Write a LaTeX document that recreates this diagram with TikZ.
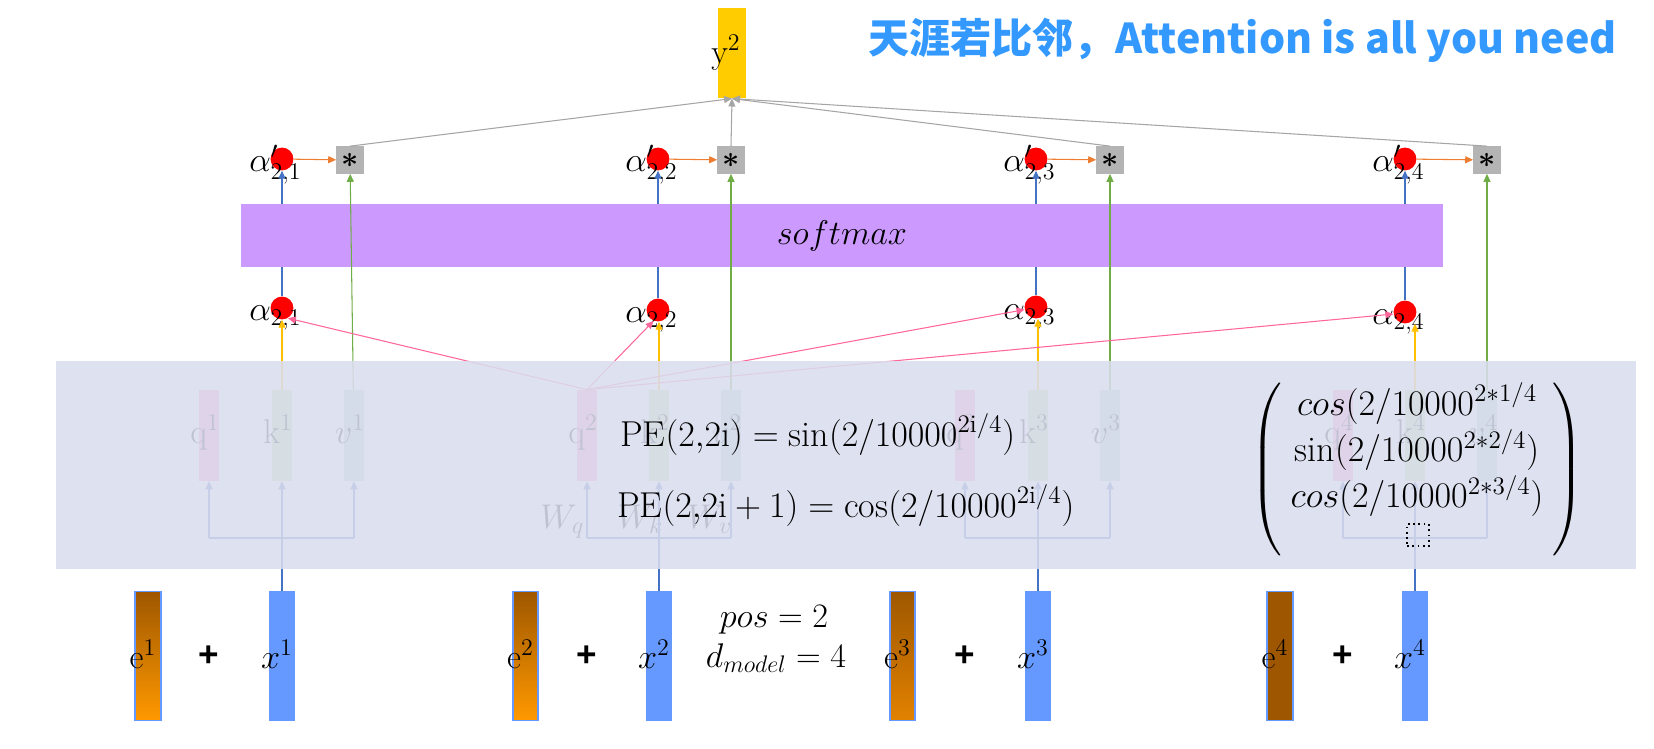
\RequirePackage{fix-cm}
\documentclass[tikz,border=0pt]{standalone}
\usepackage{fontspec}
\usepackage{amsmath, amssymb}
\usepackage{tikz}
\usetikzlibrary{positioning,arrows.meta,calc}
\newfontfamily\cjkfont{Noto Sans CJK SC}
\newfontfamily\plusfont{Liberation Sans}

\definecolor{arrblue}{RGB}{68,114,196}
\definecolor{arrorange}{RGB}{237,125,49}
\definecolor{arrgreen}{RGB}{112,173,71}
\definecolor{arryellow}{RGB}{255,192,0}
\definecolor{arrpink}{RGB}{255,102,153}
\definecolor{arrgray}{RGB}{165,165,165}
\definecolor{mulgray}{RGB}{180,180,180}
\definecolor{smpurple}{RGB}{204,153,255}
\definecolor{pebox}{RGB}{218,221,238}
\definecolor{xblue}{RGB}{102,153,255}
\definecolor{ybar}{RGB}{255,204,0}
\definecolor{ebrown}{RGB}{158,87,0}
\definecolor{eorange}{RGB}{255,153,0}
\definecolor{emid}{RGB}{226,130,0}
\definecolor{titleblue}{RGB}{51,153,255}
\definecolor{qpink}{RGB}{255,140,200}
\definecolor{kgreen}{RGB}{190,230,150}
\definecolor{vteal}{RGB}{170,215,200}

\begin{document}
\begin{tikzpicture}[
  x=0.02cm, y=-0.02cm,
  font=\fontsize{19.5}{23}\selectfont, >={Triangle[length=4.5pt, width=4pt]},
  dot/.style={circle, fill=red, minimum size=13pt, inner sep=0pt},
  mul/.style={fill=mulgray, minimum width=15.4pt, minimum height=15.4pt, inner sep=0pt, font=\fontsize{17}{19}\selectfont\boldmath},
  col/.style={minimum width=11.4pt, minimum height=51.8pt, inner sep=0pt},
  vecbar/.style={minimum width=14.6pt, minimum height=73.5pt, inner sep=0pt},
  lbl/.style={anchor=base west, inner sep=0pt},
  pefont/.style={font=\fontsize{20.5}{24}\selectfont},
  arr/.style={->, line width=0.6pt},
]
\useasboundingbox (0,0) rectangle (1654,748);

\node[fill=ybar, minimum width=16.2pt, minimum height=51.5pt, inner sep=0pt] (y2) at (732,53) {};
\node[lbl] (y2lbl) at (711,63) {$\mathrm{y}^2$};
\node[lbl, text=titleblue, font=\fontsize{23.4}{27}\selectfont\cjkfont\bfseries] (title) at (868,53)
  {天涯若比邻，Attention is all you need};

\foreach \i/\c/\ay/\q/\k/\v/\s/\e/\eb in {
    1/282/308/209/282/354/350/148/eorange,
    2/658/310/587/659/731/731/525.5/eorange,
    3/1036/307/965/1038/1110/1110/902.5/emid,
    4/1405/312/1343/1415/1487/1487/1280/ebrown}{
  \node[dot] (a\i) at (\c,\ay) {};
  \node[dot] (b\i) at (\c,159) {};
  \node[lbl] (la\i) at ($(a\i)+(-33,12)$) {$\alpha_{2{,}\i}$};
  \node[lbl] (lb\i) at ($(b\i)+(-33,12)$) {$\alpha'_{2{,}\i}$};
  \node[mul] (s\i) at (\s,160) {$\ast$};
  \draw[arr, arrblue] (a\i) -- (b\i);

  \node[col, fill=qpink] (q\i) at (\q,435.5) {};
  \node[col, fill=kgreen] (k\i) at (\k,435.5) {};
  \node[col, fill=vteal] (v\i) at (\v,435.5) {};
  \node[lbl, anchor=base] (lq\i) at ($(q\i)+(-4,7.5)$) {$\mathrm{q}^{\i}$};
  \node[lbl, anchor=base] (lk\i) at ($(k\i)+(-4,7.5)$) {$\mathrm{k}^{\i}$};
  \node[lbl, anchor=base] (lv\i) at ($(v\i)+(-4,7.5)$) {$v^{\i}$};
  \coordinate (br\i) at (\k,538);

  \node[vecbar, draw=xblue, line width=1pt, top color=ebrown, bottom color=\eb] (e\i) at (\e,656) {};
  \node[vecbar, fill=xblue] (x\i) at (\k,656) {};
  \node[lbl, anchor=base] (le\i) at ($(e\i)+(-5,12)$) {$\mathrm{e}^{\i}$};
  \node[lbl, anchor=base] (lx\i) at ($(x\i)+(-5,12)$) {$x^{\i}$};
  \node[font=\fontsize{20}{22}\selectfont\plusfont\bfseries] (p\i) at (\q,656) {+};
}

\node[fill=smpurple, minimum width=684pt, minimum height=35.8pt, inner sep=0pt] (sm) at (842,235.5) {$softmax$};

\node[lbl] (wq) at (540,528) {$W_q$};
\node[lbl] (wk) at (617,528) {$W_k$};
\node[lbl] (wv) at (687,528) {$W_v$};

\foreach \i in {1,...,4}{
  \draw[arr, arrgreen] (v\i) -- (s\i);
  \draw[arr, arryellow] (k\i) -- (k\i |- a\i.south);
  \draw[line width=0.6pt, arrblue] (x\i) -- (br\i);
  \draw[line width=0.6pt, arrblue] (q\i |- br\i) -- (v\i |- br\i);
  \draw[arr, arrblue] (br\i) -- (k\i);
  \draw[arr, arrblue] (q\i |- br\i) -- (q\i);
  \draw[arr, arrblue] (v\i |- br\i) -- (v\i);
  \draw[arr, arrorange] (b\i) -- (s\i);
  \draw[arr, arrgray] (s\i.north) -- (y2.south);
}
\draw[arr, arrpink] (q2.north) -- (a1.-60);
\draw[arr, arrpink] (q2.north) -- (a2.-112);
\draw[arr, arrpink] (q2.north) -- (a3.193);
\draw[arr, arrpink] (q2.north) -- (a4.190);

\fill[pebox, fill opacity=0.88] (56,361) rectangle (1636,569);

\node[lbl, pefont] (pe1) at (620,446) {$\mathrm{PE}(2{,}2\mathrm{i}) = \sin(2/10000^{2\mathrm{i}/4})$};
\node[lbl, pefont] (pe2) at (617,517) {$\mathrm{PE}(2{,}2\mathrm{i}+1) = \cos(2/10000^{2\mathrm{i}/4})$};
\node[inner sep=0pt, pefont] (pevec) at (1417,469)
  {$\renewcommand{\arraystretch}{1.1}\left(\begin{array}{c}
     cos(2/10000^{2*1/4}\\
     \sin(2/10000^{2*2/4})\\
     cos(2/10000^{2*3/4})\\[-7.2pt]
     \mathstrut
   \end{array}\right)$};
\node[draw, dotted, line width=1pt, minimum width=12.5pt, minimum height=12.5pt, inner sep=0pt] (slot) at (1418,535) {};

\node[lbl, anchor=base] (pos) at (774,627) {$pos = 2$};
\node[lbl, anchor=base] (dm) at (776,667) {$d_{model} = 4$};
\end{tikzpicture}
\end{document}
